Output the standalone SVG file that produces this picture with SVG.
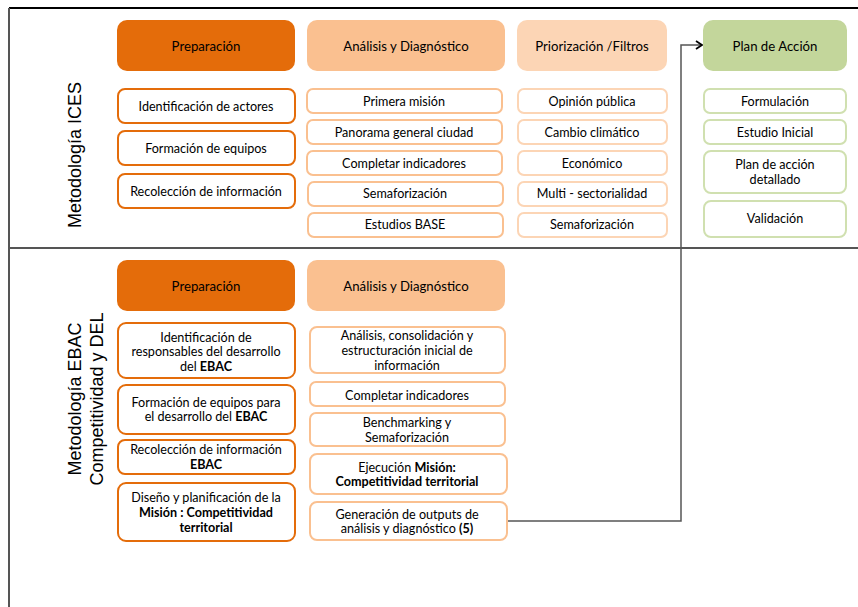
<svg xmlns="http://www.w3.org/2000/svg" width="858" height="607" viewBox="0 0 858 607">
<defs>
<marker id="arr" markerWidth="10" markerHeight="10" refX="8" refY="5" orient="auto" markerUnits="userSpaceOnUse">
<path d="M2,1 L8,5 L2,9" fill="none" stroke="#000" stroke-width="1.8"/>
</marker>
</defs>
<style>
text{font-family:"Lato","Open Sans","Liberation Sans",sans-serif;font-size:12.6px;fill:#000;text-anchor:middle}
.h{font-size:13.2px}
.side{font-family:"Liberation Sans",Arial,sans-serif;font-size:18px;fill:#000}
.b{font-weight:bold}
.hd{fill:#E46C0A}
.ha{fill:#FAC090}
.hp{fill:#FCD5B5}
.hv{fill:#C3D69B}
.ip{fill:#fff;stroke:#E46C0A;stroke-width:2}
.ia{fill:#fff;stroke:#FAC090;stroke-width:2}
.iz{fill:#fff;stroke:#FCD5B5;stroke-width:2}
.iv{fill:#fff;stroke:#D0E0B0;stroke-width:2}
.frame{stroke:#000;stroke-width:2;fill:none}
.gl{stroke:#555;stroke-width:2;fill:none}
.conn{stroke:#555;stroke-width:1.5;fill:none}
</style>
<g id="frame">
<line class="frame" x1="9" y1="8" x2="858" y2="8"/>
<line class="gl" x1="9" y1="8" x2="9" y2="607" stroke="#777"/>
<line class="gl" x1="9" y1="248" x2="858" y2="248"/>
</g>
<g id="labels">
<text class="side" transform="translate(81,155) rotate(-90)">Metodología ICES</text>
<text class="side" transform="translate(81,399) rotate(-90)">Metodología EBAC</text>
<text class="side" transform="translate(103,399) rotate(-90)">Competitividad y DEL</text>
</g>
<g id="connectors">
<path class="conn" d="M507,521 H681 V45 H702" stroke="#555" marker-end="url(#arr)"/>
</g>
<!-- Top headers -->
<g id="ices-prep-h"><rect class="hd" x="117" y="20" width="178" height="51" rx="10"/><text class="h" x="206" y="51">Preparación</text></g>
<g id="ices-anal-h"><rect class="ha" x="307" y="20" width="198" height="51" rx="10"/><text class="h" x="406" y="51">Análisis y Diagnóstico</text></g>
<g id="ices-prio-h"><rect class="hp" x="517" y="20" width="150" height="51" rx="10"/><text class="h" x="592" y="51">Priorización /Filtros</text></g>
<g id="ices-plan-h"><rect class="hv" x="703" y="20" width="144" height="51" rx="10"/><text class="h" x="775" y="51">Plan de Acción</text></g>
<!-- Top prep items -->
<g id="ices-p1"><rect class="ip" x="118" y="89" width="177" height="34" rx="7"/><text x="206" y="111">Identificación de actores</text></g>
<g id="ices-p2"><rect class="ip" x="118" y="131" width="177" height="34" rx="7"/><text x="206" y="153">Formación de equipos</text></g>
<g id="ices-p3"><rect class="ip" x="118" y="174" width="177" height="34" rx="7"/><text x="206" y="196">Recolección de información</text></g>
<!-- Top analysis items -->
<g id="ices-a1"><rect class="ia" x="307" y="89" width="195" height="24" rx="6"/><text x="404" y="106">Primera misión</text></g>
<g id="ices-a2"><rect class="ia" x="307" y="120" width="195" height="24" rx="6"/><text x="404" y="137">Panorama general ciudad</text></g>
<g id="ices-a3"><rect class="ia" x="307" y="151" width="195" height="24" rx="6"/><text x="404" y="168">Completar indicadores</text></g>
<g id="ices-a4"><rect class="ia" x="308" y="182" width="195" height="24" rx="6"/><text x="405" y="198">Semaforización</text></g>
<g id="ices-a5"><rect class="ia" x="308" y="213" width="195" height="24" rx="6"/><text x="405" y="229">Estudios BASE</text></g>
<!-- Top priorization items -->
<g id="ices-z1"><rect class="iz" x="518" y="89" width="149" height="24" rx="6"/><text x="592" y="106">Opinión pública</text></g>
<g id="ices-z2"><rect class="iz" x="518" y="120" width="149" height="24" rx="6"/><text x="592" y="137">Cambio climático</text></g>
<g id="ices-z3"><rect class="iz" x="518" y="151" width="149" height="24" rx="6"/><text x="592" y="168">Económico</text></g>
<g id="ices-z4"><rect class="iz" x="518" y="182" width="149" height="24" rx="6"/><text x="592" y="198">Multi - sectorialidad</text></g>
<g id="ices-z5"><rect class="iz" x="518" y="213" width="149" height="24" rx="6"/><text x="592" y="229">Semaforización</text></g>
<!-- Top plan items -->
<g id="ices-v1"><rect class="iv" x="704" y="89" width="142" height="24" rx="6"/><text x="775" y="106">Formulación</text></g>
<g id="ices-v2"><rect class="iv" x="704" y="120" width="142" height="24" rx="6"/><text x="775" y="137">Estudio Inicial</text></g>
<g id="ices-v3"><rect class="iv" x="704" y="151" width="142" height="42" rx="7"/><text x="775" y="169">Plan de acción</text><text x="775" y="184">detallado</text></g>
<g id="ices-v4"><rect class="iv" x="704" y="201" width="142" height="36" rx="7"/><text x="775" y="223">Validación</text></g>
<!-- Bottom headers -->
<g id="ebac-prep-h"><rect class="hd" x="117" y="260" width="178" height="51" rx="10"/><text class="h" x="206" y="291">Preparación</text></g>
<g id="ebac-anal-h"><rect class="ha" x="307" y="260" width="198" height="51" rx="10"/><text class="h" x="406" y="291">Análisis y Diagnóstico</text></g>
<!-- Bottom prep items -->
<g id="ebac-p1"><rect class="ip" x="118" y="323" width="177" height="55" rx="8"/><text x="206" y="342">Identificación de</text><text x="206" y="356">responsables del desarrollo</text><text x="206" y="371">del <tspan class="b">EBAC</tspan></text></g>
<g id="ebac-p2"><rect class="ip" x="118" y="385" width="177" height="49" rx="8"/><text x="206" y="407">Formación de equipos para</text><text x="206" y="421">el desarrollo del <tspan class="b">EBAC</tspan></text></g>
<g id="ebac-p3"><rect class="ip" x="118" y="440" width="177" height="34" rx="7"/><text x="206" y="454">Recolección de información</text><text class="b" x="206" y="469">EBAC</text></g>
<g id="ebac-p4"><rect class="ip" x="118" y="483" width="177" height="58" rx="8"/><text x="206" y="502">Diseño y planificación de la</text><text class="b" x="206" y="517">Misión : Competitividad</text><text class="b" x="206" y="532">territorial</text></g>
<!-- Bottom analysis items -->
<g id="ebac-a1"><rect class="ia" x="310" y="327" width="195" height="46" rx="7"/><text x="407" y="340">Análisis, consolidación y</text><text x="407" y="355">estructuración inicial de</text><text x="407" y="370">información</text></g>
<g id="ebac-a2"><rect class="ia" x="310" y="382" width="195" height="24" rx="6"/><text x="407" y="400">Completar indicadores</text></g>
<g id="ebac-a3"><rect class="ia" x="310" y="413" width="195" height="33" rx="6"/><text x="407" y="427">Benchmarking y</text><text x="407" y="442">Semaforización</text></g>
<g id="ebac-a4"><rect class="ia" x="310" y="454" width="197" height="40" rx="7"/><text x="407" y="472">Ejecución <tspan class="b">Misión:</tspan></text><text class="b" x="407" y="486">Competitividad territorial</text></g>
<g id="ebac-a5"><rect class="ia" x="310" y="502" width="197" height="38" rx="7"/><text x="407" y="519">Generación de outputs de</text><text x="407" y="533">análisis y diagnóstico <tspan class="b">(5)</tspan></text></g>
</svg>
